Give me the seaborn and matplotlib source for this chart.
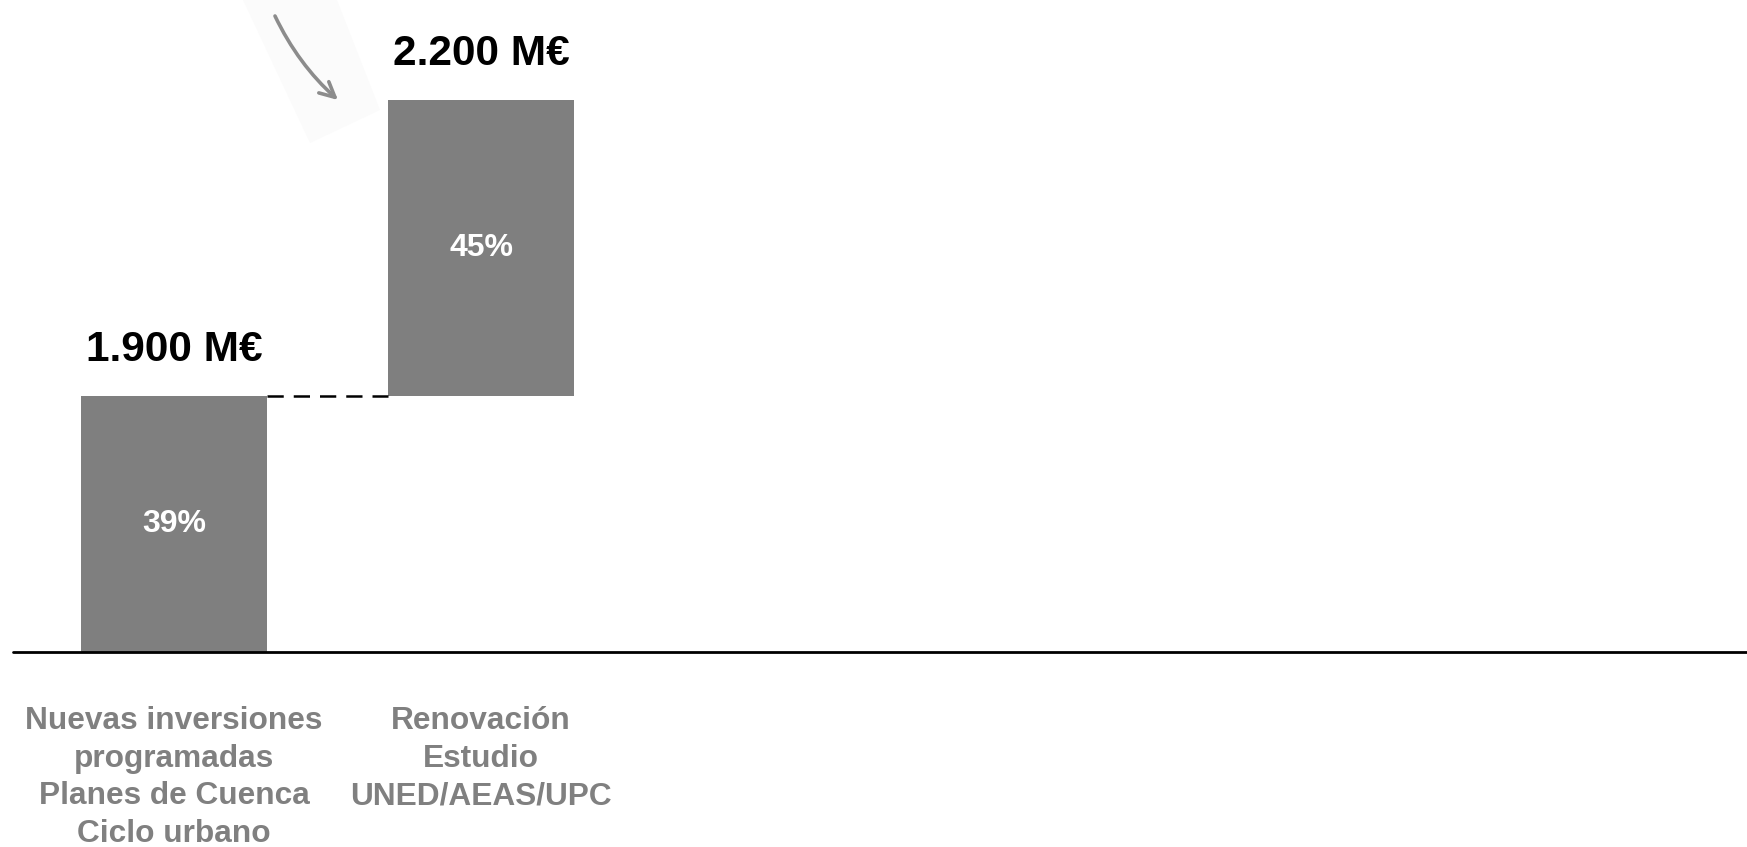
import matplotlib
matplotlib.use("Agg")
import matplotlib.pyplot as plt
from matplotlib.patches import Polygon
import seaborn as sns
import pandas as pd

# Investment figures (M€) and their shares
categories = [
    "Nuevas inversiones\nprogramadas\nPlanes de Cuenca\nCiclo urbano",
    "Renovación\nEstudio\nUNED/AEAS/UPC",
]
values = [1900, 2200]
value_labels = ["1.900 M€", "2.200 M€"]
share_labels = ["39%", "45%"]

sns.set_theme(style="white")
plt.rcParams["font.family"] = ["Liberation Sans", "DejaVu Sans"]

BAR_GREY = "#7f7f7f"
TEXT_GREY = "#808080"

# the second bar floats on top of the first one
bottoms = [0, values[0]]

df = pd.DataFrame({"cat": categories, "val": values})

fig = plt.figure(figsize=(17.47, 8.47), dpi=100)
ax = fig.add_axes([0, 0, 1, 1])

sns.barplot(data=df, x="cat", y="val", color=BAR_GREY, saturation=1,
            width=0.606, bottom=bottoms, ax=ax, linewidth=0)

ax.set_xlim(-0.567, 5.124)
ax.set_ylim(-1447, 4840)
ax.axis("off")

# baseline
ax.axhline(0, xmin=13 / 1747, xmax=1, color="black", lw=2.0, zorder=3)

# dashed connector between the two bars
half = 0.606 / 2
ax.plot([0 + half, 1 - half], [values[0], values[0]], color="black",
        lw=1.8, ls=(0, (6.5, 4)), zorder=3)

for i, (v, b) in enumerate(zip(values, bottoms)):
    top = b + v
    ax.annotate(value_labels[i], xy=(i, top), xytext=(0, 33),
                textcoords="offset points", ha="center", va="center",
                fontsize=30.5, fontweight="bold", color="black")
    ax.text(i, b + v / 2, share_labels[i], ha="center", va="center",
            fontsize=23, fontweight="bold", color="white")
    ax.annotate(categories[i], xy=(i, 0), xytext=(0, -39),
                textcoords="offset points", ha="center", va="top",
                fontsize=22.8, fontweight="bold", color=TEXT_GREY,
                linespacing=1.33)

# faint highlight strip behind the arrow
fig.patches.append(Polygon(
    [(243, 847), (337, 847), (380, 847 - 110), (310, 847 - 143)],
    closed=True, transform=None, facecolor="#fbfbfb", edgecolor="none",
    zorder=-1))

# curved pointer towards the second bar
ax.annotate("", xy=(338, 847 - 100), xycoords="figure pixels",
            xytext=(275, 847 - 16), textcoords="figure pixels",
            annotation_clip=False, zorder=5,
            arrowprops=dict(arrowstyle="->,head_length=0.9,head_width=0.45",
                            color="#8c8c8c", lw=2.6, shrinkA=0, shrinkB=0,
                            connectionstyle="arc3,rad=0.1"))

fig.savefig("out.png", dpi=100, facecolor="white")
